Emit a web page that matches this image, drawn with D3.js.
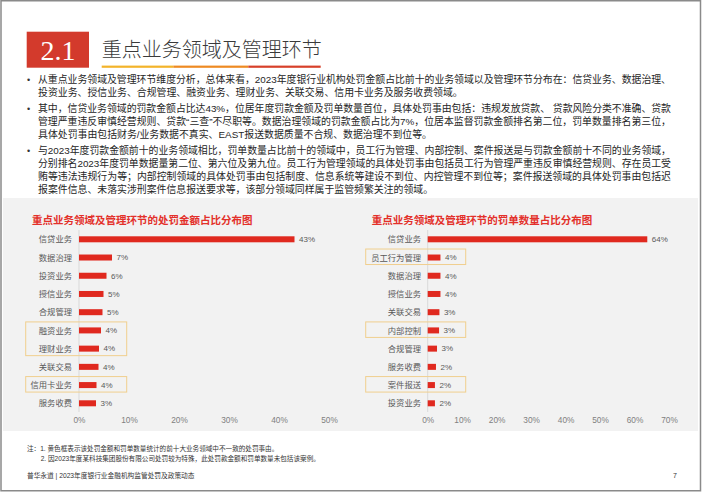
<!DOCTYPE html>
<html><head><meta charset="utf-8">
<script src="https://cdn.jsdelivr.net/npm/d3@7"></script>
<style>
html,body{margin:0;padding:0;background:#fff;}
svg{display:block;}
</style></head>
<body>
<svg id="c" width="702" height="496"></svg>
<script>
// ---------- data ----------
const amountCategories = ["信贷业务","数据治理","投资业务","授信业务","合规管理","融资业务","理财业务","关联交易","信用卡业务","服务收费"];
const amountValues = [43.1, 6.6, 5.5, 4.9, 4.7, 4.4, 4.0, 3.9, 3.5, 3.4];
const amountLabels = ["43%","7%","6%","5%","5%","4%","4%","4%","4%","3%"];
const amountTicks = [0,10,20,30,40,50];
const amountHighlight = [["融资业务","理财业务"],["信用卡业务"]];

const countCategories = ["信贷业务","员工行为管理","数据治理","授信业务","关联交易","内部控制","合规管理","服务收费","案件报送","投资业务"];
const countValues = [63.7, 3.7, 3.7, 3.7, 3.4, 3.3, 2.7, 2.4, 2.1, 2.1];
const countLabels = ["64%","4%","4%","4%","3%","3%","3%","2%","2%","2%"];
const countTicks = [0,10,20,30,40,50,60,70];
const countHighlight = [["员工行为管理"],["内部控制"],["案件报送"]];

const sectionNo = "2.1";
const sectionTitle = "重点业务领域及管理环节";
const bullets = [
  ["从重点业务领域及管理环节维度分析，总体来看，2023年度银行业机构处罚金额占比前十的业务领域以及管理环节分布在：信贷业务、数据治理、",
   "投资业务、授信业务、合规管理、融资业务、理财业务、关联交易、信用卡业务及服务收费领域。"],
  ["其中，信贷业务领域的罚款金额占比达43%，位居年度罚款金额及罚单数量首位，具体处罚事由包括：违规发放贷款、 贷款风险分类不准确、贷款",
   "管理严重违反审慎经营规则、贷款“三查”不尽职等。数据治理领域的罚款金额占比为7%，位居本监督罚款金额排名第二位，罚单数量排名第三位，",
   "具体处罚事由包括财务/业务数据不真实、EAST报送数据质量不合规、数据治理不到位等。"],
  ["与2023年度罚款金额前十的业务领域相比，罚单数量占比前十的领域中，员工行为管理、内部控制、案件报送是与罚款金额前十不同的业务领域，",
   "分别排名2023年度罚单数据量第二位、第六位及第九位。员工行为管理领域的具体处罚事由包括员工行为管理严重违反审慎经营规则、存在员工受",
   "贿等违法违规行为等；内部控制领域的具体处罚事由包括制度、信息系统等建设不到位、内控管理不到位等；案件报送领域的具体处罚事由包括迟",
   "报案件信息、未落实涉刑案件信息报送要求等，该部分领域同样属于监管频繁关注的领域。"]
];
const chartTitles = ["重点业务领域及管理环节的处罚金额占比分布图","重点业务领域及管理环节的罚单数量占比分布图"];
const notes = ["注：1. 黄色框表示该处罚金额和罚单数量统计的前十大业务领域中不一致的处罚事由。",
               "2. 因2023年度某科技集团股份有限公司处罚较为特殊，此处罚款金额和罚单数量未包括该案例。"];
const footer = "普华永道 | 2023年度银行业金融机构监管处罚及政策动态";
const pageNo = "7";

// ---------- drawing ----------
const FONT = "'Liberation Sans','Noto Sans CJK SC',sans-serif";
const svg = d3.select("#c").style("font-family", FONT);
svg.append("rect").attr("width",702).attr("height",496).attr("fill","#fff");

// gray panel
svg.append("rect").attr("x",3).attr("y",198).attr("width",695).attr("height",233).attr("fill","#f2f2f2");

// page border
svg.append("rect").attr("x",1).attr("y",0.75).attr("width",699.5).attr("height",490)
  .attr("fill","none").attr("stroke","#8a8a8a").attr("stroke-width",1.5);

// header
svg.append("rect").attr("x",26.7).attr("y",31.7).attr("width",62.3).attr("height",36).attr("fill","#d33a2c");
svg.append("text").attr("x",58).attr("y",60).attr("text-anchor","middle")
  .attr("font-family","'Liberation Serif','DejaVu Serif',serif").attr("font-size",28)
  .attr("fill","#fff").text(sectionNo);
svg.append("text").attr("x",101.7).attr("y",56.5).attr("font-size",20).attr("font-weight",300)
  .attr("font-family","'Noto Sans CJK SC',sans-serif")
  .attr("fill","#3a3a3a").text(sectionTitle);
const ul = [[101.7,173.3,"#f3b32a"],[173.3,248.3,"#ee8a22"],[248.3,320.7,"#d7402a"]];
ul.forEach(s=>svg.append("rect").attr("x",s[0]).attr("y",65.6).attr("width",s[1]-s[0]).attr("height",2.2).attr("fill",s[2]));

// bullets
const bulletStarts = [79.5, 108.5, 150.5];
const lineH = 12.9;
bullets.forEach((lines,bi)=>{
  const y0 = bulletStarts[bi];
  svg.append("text").attr("x",27).attr("y",y0).attr("dy","0.35em").attr("font-size",9).attr("fill","#333").text("•");
  lines.forEach((t,li)=>{
    const tx = svg.append("text").attr("x",38).attr("y",y0+li*lineH).attr("dy","0.35em")
      .attr("font-size",9.9).attr("fill","#262626").text(t);
    if (li < lines.length-1) tx.attr("textLength",633).attr("lengthAdjust","spacing");
  });
});

// charts
function drawChart(cfg){
  const x = d3.scaleLinear().domain([0,cfg.ticks[cfg.ticks.length-1]]).range([cfg.x0,cfg.x1]);
  const y = d3.scalePoint().domain(cfg.cats).range([239.3,403.3]);
  const g = svg.append("g");
  g.append("text").attr("x",cfg.titleX).attr("y",220).attr("dy","0.35em")
    .attr("font-size",10.5).attr("font-weight","bold").attr("fill","#e3302a").text(cfg.title);
  // axis line
  g.append("line").attr("x1",cfg.x0).attr("x2",cfg.x0).attr("y1",230).attr("y2",412)
    .attr("stroke","#d9d9d9").attr("stroke-width",1);
  // highlight boxes
  cfg.highlight.forEach(grp=>{
    const ya = y(grp[0]) - 8.5, yb = y(grp[grp.length-1]) + 7;
    g.append("rect").attr("x",cfg.boxX).attr("y",ya).attr("width",cfg.boxW).attr("height",yb-ya)
      .attr("fill","none").attr("stroke","#f0cf8e").attr("stroke-width",1);
  });
  // bars
  g.selectAll("rect.bar").data(cfg.vals).join("rect").attr("class","bar")
    .attr("x",x(0)).attr("y",(d,i)=>y(cfg.cats[i])-3).attr("width",d=>x(d)-x(0)).attr("height",6)
    .attr("fill","#e0291f");
  // value labels
  g.selectAll("text.val").data(cfg.vals).join("text").attr("class","val")
    .attr("x",d=>x(d)+4.5).attr("y",(d,i)=>y(cfg.cats[i])).attr("dy","0.35em")
    .attr("font-size",8).attr("fill","#595959").text((d,i)=>cfg.labels[i]);
  // category axis
  const ya = g.append("g").attr("transform",`translate(${cfg.x0},0)`)
    .call(d3.axisLeft(y).tickSize(0).tickPadding(cfg.pad));
  ya.select(".domain").remove();
  ya.selectAll("text").attr("font-size",8.3).attr("fill","#595959").attr("font-family",FONT);
  // value axis
  const xa = g.append("g").attr("transform","translate(0,417)")
    .call(d3.axisBottom(x).tickValues(cfg.ticks).tickSize(0).tickPadding(0).tickFormat(d=>d+"%"));
  xa.select(".domain").remove();
  xa.selectAll("text").attr("font-size",8.3).attr("fill","#808080").attr("font-family",FONT);
}
drawChart({cats:amountCategories, vals:amountValues, labels:amountLabels, ticks:amountTicks,
  x0:79, x1:329, titleX:32, title:chartTitles[0], highlight:amountHighlight, boxX:25.7, boxW:101, pad:7});
drawChart({cats:countCategories, vals:countValues, labels:countLabels, ticks:countTicks,
  x0:427.7, x1:669, titleX:371.7, title:chartTitles[1], highlight:countHighlight, boxX:365.7, boxW:100, pad:6.7});

// notes & footer
svg.append("text").attr("x",27).attr("y",449).attr("dy","0.35em").attr("font-size",6.6).attr("fill","#333").text(notes[0]);
svg.append("text").attr("x",40.7).attr("y",459).attr("dy","0.35em").attr("font-size",6.6).attr("fill","#333").text(notes[1]);
svg.append("text").attr("x",27).attr("y",476).attr("dy","0.35em").attr("font-size",6.7).attr("fill","#333").text(footer);
svg.append("text").attr("x",673).attr("y",476).attr("dy","0.35em").attr("font-size",7).attr("fill","#333").text(pageNo);
</script>
</body></html>
